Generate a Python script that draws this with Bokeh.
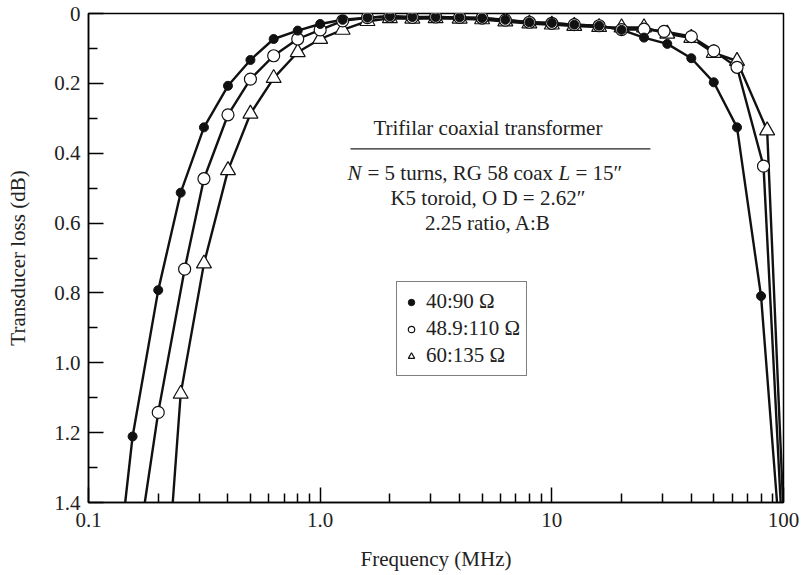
from bokeh.plotting import figure
from bokeh.models import Range1d, FixedTicker, Label, Legend, LegendItem
from bokeh.embed import file_html
from bokeh.resources import INLINE

# ---------------- data ----------------
freq_a = [0.155, 0.2, 0.25, 0.315, 0.4, 0.5, 0.63, 0.8, 1.0, 1.25, 1.6, 2.0, 2.5, 3.15,
          4.0, 5.0, 6.3, 8.0, 10.0, 12.5, 16.0, 20.0, 25.0, 31.5, 40.0, 50.0, 63.0, 80.0]
loss_a = [1.211, 0.792, 0.513, 0.326, 0.207, 0.133, 0.073, 0.049, 0.030, 0.018, 0.012, 0.008,
          0.010, 0.010, 0.011, 0.013, 0.018, 0.025, 0.027, 0.032, 0.035, 0.047, 0.069, 0.087,
          0.128, 0.197, 0.326, 0.809]
edge_freq_a = [0.144, 93.8]

freq_b = [0.2, 0.26, 0.315, 0.4, 0.5, 0.63, 0.8, 1.0, 1.25, 1.6, 2.0, 2.5, 3.15, 4.0, 5.0,
          6.3, 8.0, 10.0, 12.5, 16.0, 20.0, 25.0, 30.5, 40.0, 50.0, 63.0, 82.0]
loss_b = [1.142, 0.732, 0.473, 0.290, 0.188, 0.121, 0.073, 0.047, 0.021, 0.012, 0.008, 0.011,
          0.010, 0.011, 0.013, 0.019, 0.025, 0.028, 0.032, 0.035, 0.046, 0.045, 0.051, 0.066,
          0.107, 0.154, 0.437]
edge_freq_b = [0.175, 97.2]

freq_c = [0.25, 0.315, 0.4, 0.5, 0.63, 0.8, 1.0, 1.25, 1.6, 2.0, 2.5, 3.15, 4.0, 5.0, 6.3,
          8.0, 10.0, 12.5, 16.0, 20.0, 25.0, 31.5, 40.0, 50.0, 63.0, 85.0]
loss_c = [1.089, 0.716, 0.449, 0.287, 0.185, 0.111, 0.073, 0.047, 0.022, 0.014, 0.015, 0.014,
          0.015, 0.017, 0.023, 0.029, 0.032, 0.036, 0.039, 0.040, 0.040, 0.058, 0.070, 0.113,
          0.136, 0.335]
edge_freq_c = [0.231, 99.5]

edge_loss = [1.4, 1.4]

series_labels = ["40:90 Ω", "48.9:110 Ω", "60:135 Ω"]

x_ticks = [0.1, 1.0, 10.0, 100.0]
x_tick_labels = ["0.1", "1.0", "10", "100"]
x_minor = [0.2, 0.3, 0.4, 0.5, 0.6, 0.7, 0.8, 0.9, 2, 3, 4, 5, 6, 7, 8, 9,
           20, 30, 40, 50, 60, 70, 80, 90]
y_ticks = [0, 0.2, 0.4, 0.6, 0.8, 1.0, 1.2, 1.4]
y_tick_labels = ["0", "0.2", "0.4", "0.6", "0.8", "1.0", "1.2", "1.4"]
y_minor = [0.1, 0.3, 0.5, 0.7, 0.9, 1.1, 1.3]

FONT = "Liberation Serif"
FS = "21px"

p = figure(width=800, height=573, x_axis_type="log",
           x_range=Range1d(0.1, 100), y_range=Range1d(1.4, 0),
           output_backend="svg", toolbar_location=None,
           min_border_left=88, min_border_right=17, min_border_top=13, min_border_bottom=70)

p.xgrid.visible = False
p.ygrid.visible = False
p.outline_line_color = "black"
p.outline_line_width = 1.5
p.background_fill_color = "white"
p.border_fill_color = "white"

# axes
xa = p.xaxis[0]
xa.ticker = FixedTicker(ticks=x_ticks, minor_ticks=x_minor)
xa.major_label_overrides = {t: l for t, l in zip(x_ticks, x_tick_labels)}
ya = p.yaxis[0]
ya.ticker = FixedTicker(ticks=y_ticks, minor_ticks=y_minor)
ya.major_label_overrides = {t: l for t, l in zip(y_ticks, y_tick_labels)}
xa.axis_label = "Frequency (MHz)"
ya.axis_label = "Transducer loss (dB)"
for ax in (xa, ya):
    ax.axis_line_color = "black"
    ax.axis_line_width = 1.5
    ax.major_tick_in = 15
    ax.major_tick_out = 0
    ax.minor_tick_in = 9
    ax.minor_tick_out = 0
    ax.major_tick_line_color = "black"
    ax.minor_tick_line_color = "black"
    ax.major_tick_line_width = 1.5
    ax.minor_tick_line_width = 1.5
    ax.major_label_text_font = FONT
    ax.major_label_text_font_size = FS
    ax.major_label_text_color = "#222222"
    ax.axis_label_text_font = FONT
    ax.axis_label_text_font_size = FS
    ax.axis_label_text_font_style = "normal"
    ax.axis_label_text_color = "#222222"
xa.major_label_standoff = 10
xa.axis_label_standoff = 17
ya.major_label_standoff = 8
ya.axis_label_standoff = 21

# curves
LW = 2.4
p.line(edge_freq_c[:1] + freq_c + edge_freq_c[1:], edge_loss[:1] + loss_c + edge_loss[1:],
       line_color="#111111", line_width=LW)
p.line(edge_freq_b[:1] + freq_b + edge_freq_b[1:], edge_loss[:1] + loss_b + edge_loss[1:],
       line_color="#111111", line_width=LW)
p.line(edge_freq_a[:1] + freq_a + edge_freq_a[1:], edge_loss[:1] + loss_a + edge_loss[1:],
       line_color="#111111", line_width=LW)

rc = p.scatter(freq_c, loss_c, marker="triangle", size=15, fill_color="white",
               line_color="#111111", line_width=1.2)
rb = p.scatter(freq_b, loss_b, marker="circle", size=12, fill_color="white",
               line_color="#111111", line_width=1.2)
ra = p.scatter(freq_a, loss_a, marker="circle", size=9, fill_color="#111111",
               line_color="#111111", line_width=1)

legend = Legend(items=[LegendItem(label=series_labels[0], renderers=[ra]),
                       LegendItem(label=series_labels[1], renderers=[rb]),
                       LegendItem(label=series_labels[2], renderers=[rc])],
                location=(308, 126), orientation="vertical",
                border_line_color="black", border_line_width=1.2,
                background_fill_color="white", background_fill_alpha=1.0,
                label_text_font=FONT, label_text_font_size=FS, label_text_color="#222222",
                glyph_width=16, glyph_height=20, label_standoff=7, label_height=27,
                padding=6, spacing=0, margin=0)
p.add_layout(legend)


# annotation texts (page-pixel positions converted to data coords)
def fx(px):
    return 10 ** (-1 + (px - 88) / 231.7)


def fy(py):
    return (py - 12.7) / 350.0


def lab(px, py, text, align="left", style="normal"):
    p.add_layout(Label(x=fx(px), y=fy(py), text=text, text_align=align,
                       text_baseline="middle", text_font=FONT, text_font_size=FS,
                       text_font_style=style, text_color="#222222"))


lab(487.5, 127, "Trifilar coaxial transformer", align="center")
p.segment(x0=[fx(350)], y0=[fy(148.3)], x1=[fx(650)], y1=[fy(148.3)],
          line_color="#222222", line_width=1.3)
lab(347, 173, "N", style="italic")
lab(367, 173, "= 5 turns, RG 58 coax")
lab(558, 173, "L", style="italic")
lab(575, 173, "= 15\u2033")
lab(487.5, 198, "K5 toroid, O D = 2.62\u2033", align="center")
lab(487.5, 223, "2.25 ratio, A:B", align="center")

open("out.html", "w").write(file_html(p, INLINE))
